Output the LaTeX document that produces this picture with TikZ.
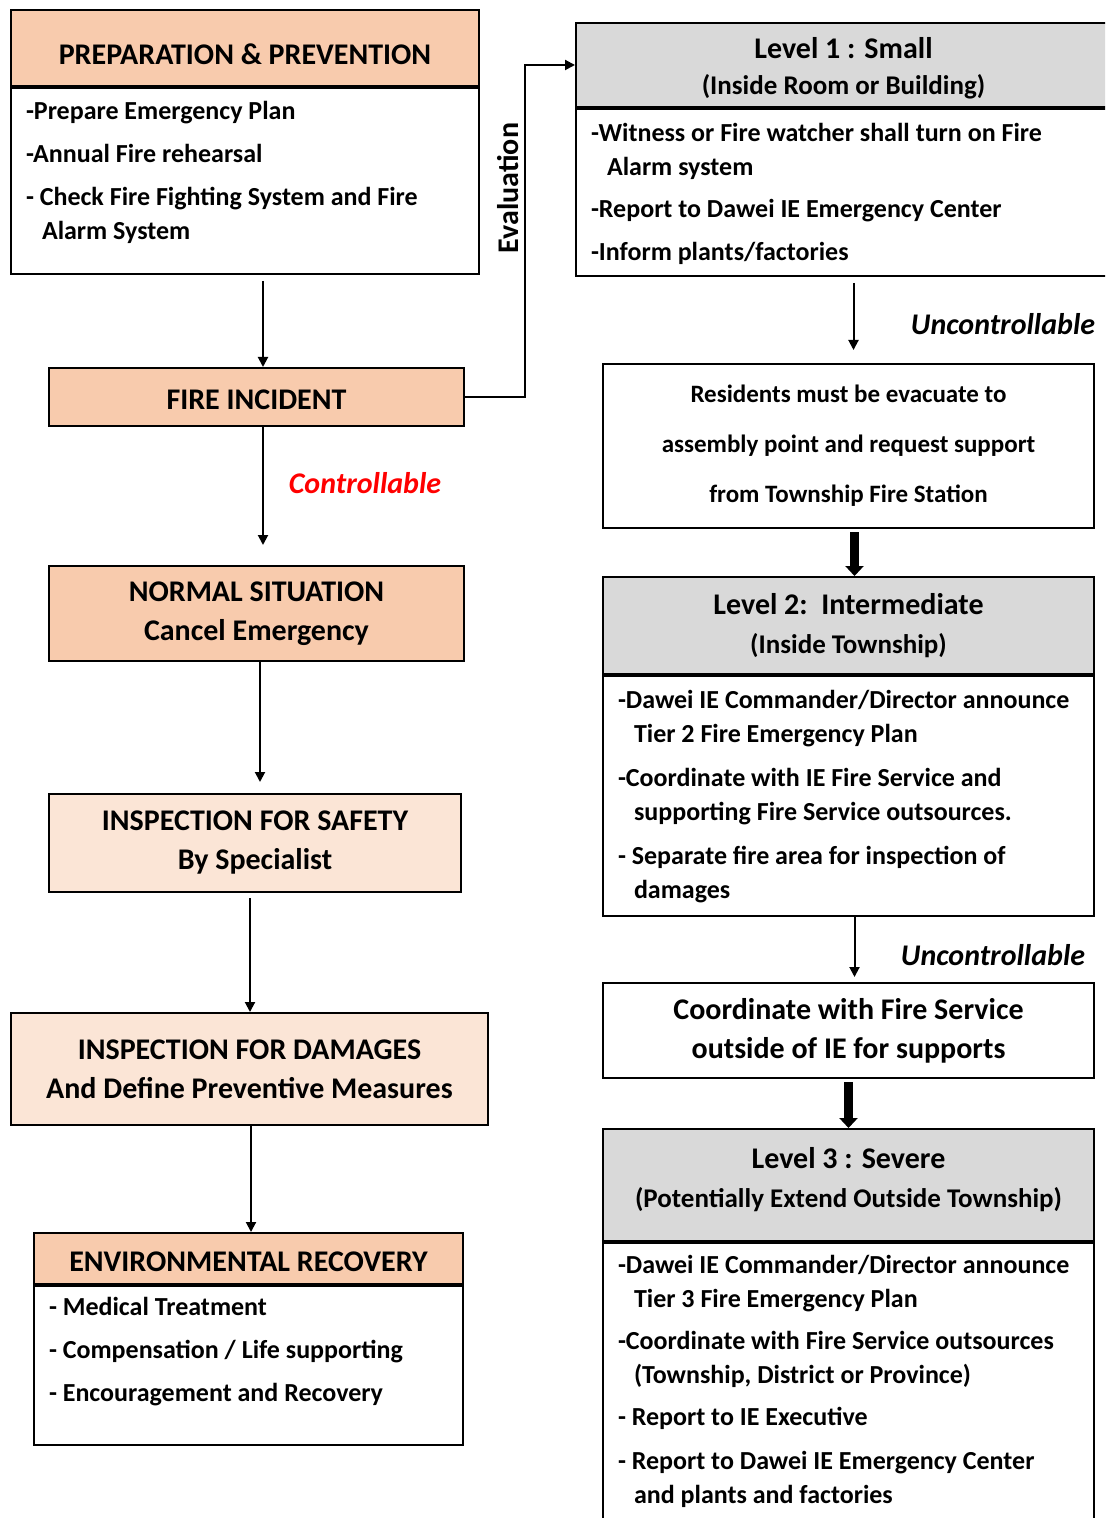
\documentclass[tikz,border=0pt]{standalone}
\usepackage{fontspec}
\setmainfont{Carlito}
\usepackage{xcolor}
\definecolor{PeachHead}{HTML}{F8CBAD}
\definecolor{PeachLight}{HTML}{FBE5D6}
\definecolor{LevelGray}{HTML}{D9D9D9}
\definecolor{CtrlRed}{HTML}{FF0000}
\usetikzlibrary{arrows.meta, positioning}

% list text inside a framed body: width, height, top gap, lines
\newcommand{\itemlines}[4]{\parbox[c][#2][t]{#1}{\vspace*{#3}\raggedright
  \leftskip=7.5pt\fontsize{13}{17}\selectfont\bfseries #4}}

\tikzset{
  frame/.style={draw, line width=1pt, inner sep=0pt, anchor=north west},
  headfont/.style={font=\fontsize{15}{19.5}\selectfont\bfseries, align=center},
  peachhead/.style={frame, headfont, fill=PeachHead},
  peachlight/.style={frame, headfont, fill=PeachLight},
  grayhead/.style={frame, headfont, fill=LevelGray},
  plainbox/.style={frame, headfont, fill=white},
  bodybox/.style={frame, fill=white},
  arr/.style={line width=1pt, -{Triangle[length=5pt, width=5pt]}},
  thickarr/.style={line width=4.5pt, -{Triangle[length=5pt, width=9pt]}},
  flowlabel/.style={font=\fontsize{15}{18}\selectfont\bfseries\itshape}
}

\begin{document}
\begin{tikzpicture}[x=0.5pt, y=-0.5pt]
\useasboundingbox (0,0) rectangle (1105,1518);
\clip (0,0) rectangle (1105,1518);

% left column
\node[peachhead, minimum width=234pt, minimum height=38pt] (prephead) at (10,9)
  {\rule{0pt}{17pt}PREPARATION \& PREVENTION};
\node[bodybox] (prepbody) at (prephead.south west)
  {\itemlines{234pt}{93pt}{6.5pt}{-Prepare Emergency Plan\\[4.5pt]
   -Annual Fire rehearsal\\[4.5pt]
   - Check Fire Fighting System and Fire\\
   \hspace*{8pt}Alarm System}};

\node[peachhead, minimum width=207.5pt, minimum height=29pt] (fire) at (48,367)
  {\rule{0pt}{13pt}FIRE INCIDENT};
\node[peachhead, minimum width=207.5pt, minimum height=47.5pt] (normal) at (48,565)
  {NORMAL SITUATION\\Cancel Emergency};
\node[peachlight, minimum width=206pt, minimum height=49pt] (safety) at (48,793)
  {INSPECTION FOR SAFETY\\By Specialist};
\node[peachlight, minimum width=238.5pt, minimum height=56pt] (damage) at (10,1012)
  {INSPECTION FOR DAMAGES\\And Define Preventive Measures};
\node[peachhead, minimum width=214.5pt, minimum height=25.5pt] (envhead) at (33,1232)
  {\rule{0pt}{13pt}ENVIRONMENTAL RECOVERY};
\node[bodybox] (envbody) at (envhead.south west)
  {\itemlines{214.5pt}{79.5pt}{5.5pt}{- Medical Treatment\\[4.5pt]
   - Compensation / Life supporting\\[4.5pt]
   - Encouragement and Recovery}};

% right column
\node[grayhead, minimum width=267.5pt, minimum height=42pt,
  font=\fontsize{15}{18}\selectfont\bfseries] (lv1head) at (575,22)
  {\rule{0pt}{14pt}Level 1 : Small\\{\fontsize{13.5}{15}\selectfont(Inside Room or Building)}};
\node[bodybox] (lv1body) at (lv1head.south west)
  {\itemlines{267.5pt}{83.5pt}{7pt}{-Witness or Fire watcher shall turn on Fire\\
   \hspace*{8pt}Alarm system\\[4pt]
   -Report to Dawei IE Emergency Center\\[4.5pt]
   -Inform plants/factories}};

\node[plainbox, minimum width=245.5pt, minimum height=82pt,
  font=\fontsize{12.5}{25}\selectfont\bfseries] (resid) at (602,363)
  {Residents must be evacuate to\\assembly point and request support\\from Township Fire Station};

\node[grayhead, minimum width=245.5pt, minimum height=48.5pt] (lv2head) at (602,576)
  {Level 2:\ \ Intermediate\\{\fontsize{13.5}{15}\selectfont(Inside Township)}};
\node[bodybox] (lv2body) at (lv2head.south west)
  {\itemlines{245.5pt}{120pt}{7pt}{-Dawei IE Commander/Director announce\\
   \hspace*{8pt}Tier 2 Fire Emergency Plan\\[5pt]
   -Coordinate with IE Fire Service and\\
   \hspace*{8pt}supporting Fire Service outsources.\\[5pt]
   - Separate fire area for inspection of\\
   \hspace*{8pt}damages}};

\node[plainbox, minimum width=245.5pt, minimum height=47.5pt] (coord) at (602,982)
  {Coordinate with Fire Service\\outside of IE for supports};

\node[grayhead, minimum width=245.5pt, minimum height=56pt] (lv3head) at (602,1128)
  {Level 3 : Severe\\{\fontsize{13.5}{15}\selectfont(Potentially Extend Outside Township)}\rule[-8pt]{0pt}{8pt}};
\node[bodybox] (lv3body) at (lv3head.south west)
  {\itemlines{245.5pt}{150pt}{6pt}{-Dawei IE Commander/Director announce\\
   \hspace*{8pt}Tier 3 Fire Emergency Plan\\[4pt]
   -Coordinate with Fire Service outsources\\
   \hspace*{8pt}(Township, District or Province)\\[4pt]
   - Report to IE Executive\\[5pt]
   - Report to Dawei IE Emergency Center\\
   \hspace*{8pt}and plants and factories}};

% labels
\node[font=\fontsize{15}{16}\selectfont\bfseries, rotate=90] (evallabel) at (508,188) {Evaluation};
\node[flowlabel, text=CtrlRed] (ctrl) at (365,483) {Controllable};
\node[flowlabel] (unctrla) at (1003,324) {Uncontrollable};
\node[flowlabel] (unctrlb) at (993,955) {Uncontrollable};

% connectors
\coordinate (evalturn) at (525,0);
\draw[arr] (fire.east) -- (fire.east -| evalturn) |- (lv1head.west);
\draw[arr, shorten <=3pt] ([xshift=9pt]prepbody.south) -- ([xshift=9pt]prepbody.south |- fire.north);
\draw[arr, shorten >=10pt] ([xshift=3.25pt]fire.south) -- ([xshift=3.25pt]fire.south |- normal.north);
\draw[arr, shorten >=5.5pt] ([xshift=1.75pt]normal.south) -- ([xshift=1.75pt]normal.south |- safety.north);
\draw[arr, shorten <=2.5pt] ([xshift=-2.5pt]safety.south) -- ([xshift=-2.5pt]safety.south |- damage.north);
\draw[arr] ([xshift=0.75pt]damage.south) -- ([xshift=0.75pt]damage.south |- envhead.north);
\draw[arr, shorten <=3pt, shorten >=6.5pt] ([xshift=5pt]lv1body.south) -- ([xshift=5pt]lv1body.south |- resid.north);
\draw[thickarr, shorten <=1.5pt] ([xshift=3pt]resid.south) -- ([xshift=3pt]resid.south |- lv2head.north);
\draw[arr, shorten >=2.5pt] ([xshift=3pt]lv2body.south) -- ([xshift=3pt]lv2body.south |- coord.north);
\draw[thickarr, shorten <=1.5pt] (coord.south) -- (coord.south |- lv3head.north);
\end{tikzpicture}
\end{document}
